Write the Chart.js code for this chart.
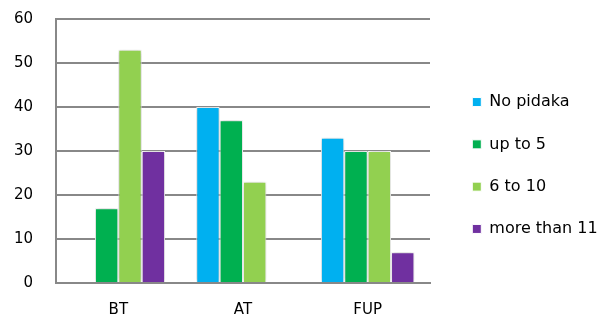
<!DOCTYPE html>
<html>
<head>
<meta charset="utf-8">
<script src="https://cdn.jsdelivr.net/npm/chart.js@4/dist/chart.umd.min.js"></script>
<style>
    html, body { margin: 0; padding: 0; background: #fff; }
    #wrap { width: 615px; height: 322px; }
</style>
</head>
<body>
<div id="wrap"><canvas id="pidakaChart"></canvas></div>
<script>
// Data
const categories = ['BT', 'AT', 'FUP'];
const seriesNames = ['No pidaka', 'up to 5', '6 to 10', 'more than 11'];
const noPidaka = [0, 40, 33];
const upTo5 = [17, 37, 30];
const sixTo10 = [53, 23, 30];
const moreThan11 = [30, 0, 7];
const yTicks = [0, 10, 20, 30, 40, 50, 60];

const seriesValues = [noPidaka, upTo5, sixTo10, moreThan11];
const seriesColors = ['#00b0f0', '#00b050', '#92d050', '#7030a0'];

Chart.defaults.font.family = '"DejaVu Sans", sans-serif';
Chart.defaults.font.size = 15;
Chart.defaults.color = '#000';

// soft glow behind bars
const barShadow = {
    id: 'barShadow',
    beforeDatasetsDraw(chart) {
        const ctx = chart.ctx;
        ctx.save();
        ctx.shadowColor = 'rgba(0,0,0,0.28)';
        ctx.shadowBlur = 5;
    },
    afterDatasetsDraw(chart) {
        chart.ctx.restore();
    }
};

// fixed legend column, items pushed away from the plot area
const legendGap = {
    id: 'legendGap',
    beforeLayout(chart) {
        const lg = chart.legend;
        if (lg && !lg._gapPatched) {
            const fit = lg.fit;
            lg.fit = function () {
                fit.call(this);
                this.width = 185;
            };
            lg._gapPatched = true;
        }
    },
    afterLayout(chart) {
        chart.legend.left += 16;
    }
};

const ctx = document.getElementById('pidakaChart').getContext('2d');
new Chart(ctx, {
    type: 'bar',
    data: {
        labels: categories,
        datasets: seriesNames.map((name, i) => ({
            label: name,
            data: seriesValues[i],
            backgroundColor: seriesColors[i],
            borderColor: '#ffffff',
            borderWidth: 1,
            categoryPercentage: 0.75,
            barPercentage: 1
        }))
    },
    options: {
        responsive: true,
        maintainAspectRatio: false,
        animation: false,
        layout: {
            padding: { left: 14, right: 0, top: 12, bottom: 3 }
        },
        plugins: {
            legend: {
                position: 'right',
                labels: {
                    boxWidth: 9,
                    boxHeight: 9,
                    padding: 26.3,
                    font: { size: 16 }
                }
            },
            tooltip: { enabled: false }
        },
        scales: {
            x: {
                grid: { display: false, drawTicks: false },
                border: { display: true, color: '#888888', width: 2 },
                ticks: { padding: 18 },
                afterFit: axis => { axis.height = 36; }
            },
            y: {
                min: yTicks[0],
                max: yTicks[yTicks.length - 1],
                afterBuildTicks: axis => {
                    axis.ticks = yTicks.map(v => ({ value: v }));
                },
                grid: { color: '#888888', lineWidth: 2, drawTicks: false },
                border: { display: true, color: '#888888', width: 2 },
                ticks: { padding: 23 },
                afterFit: axis => {
                    axis.width = 42;
                    axis.paddingTop = 19;
                    axis.paddingBottom = 0;
                }
            }
        }
    },
    plugins: [barShadow, legendGap]
});
</script>
</body>
</html>
